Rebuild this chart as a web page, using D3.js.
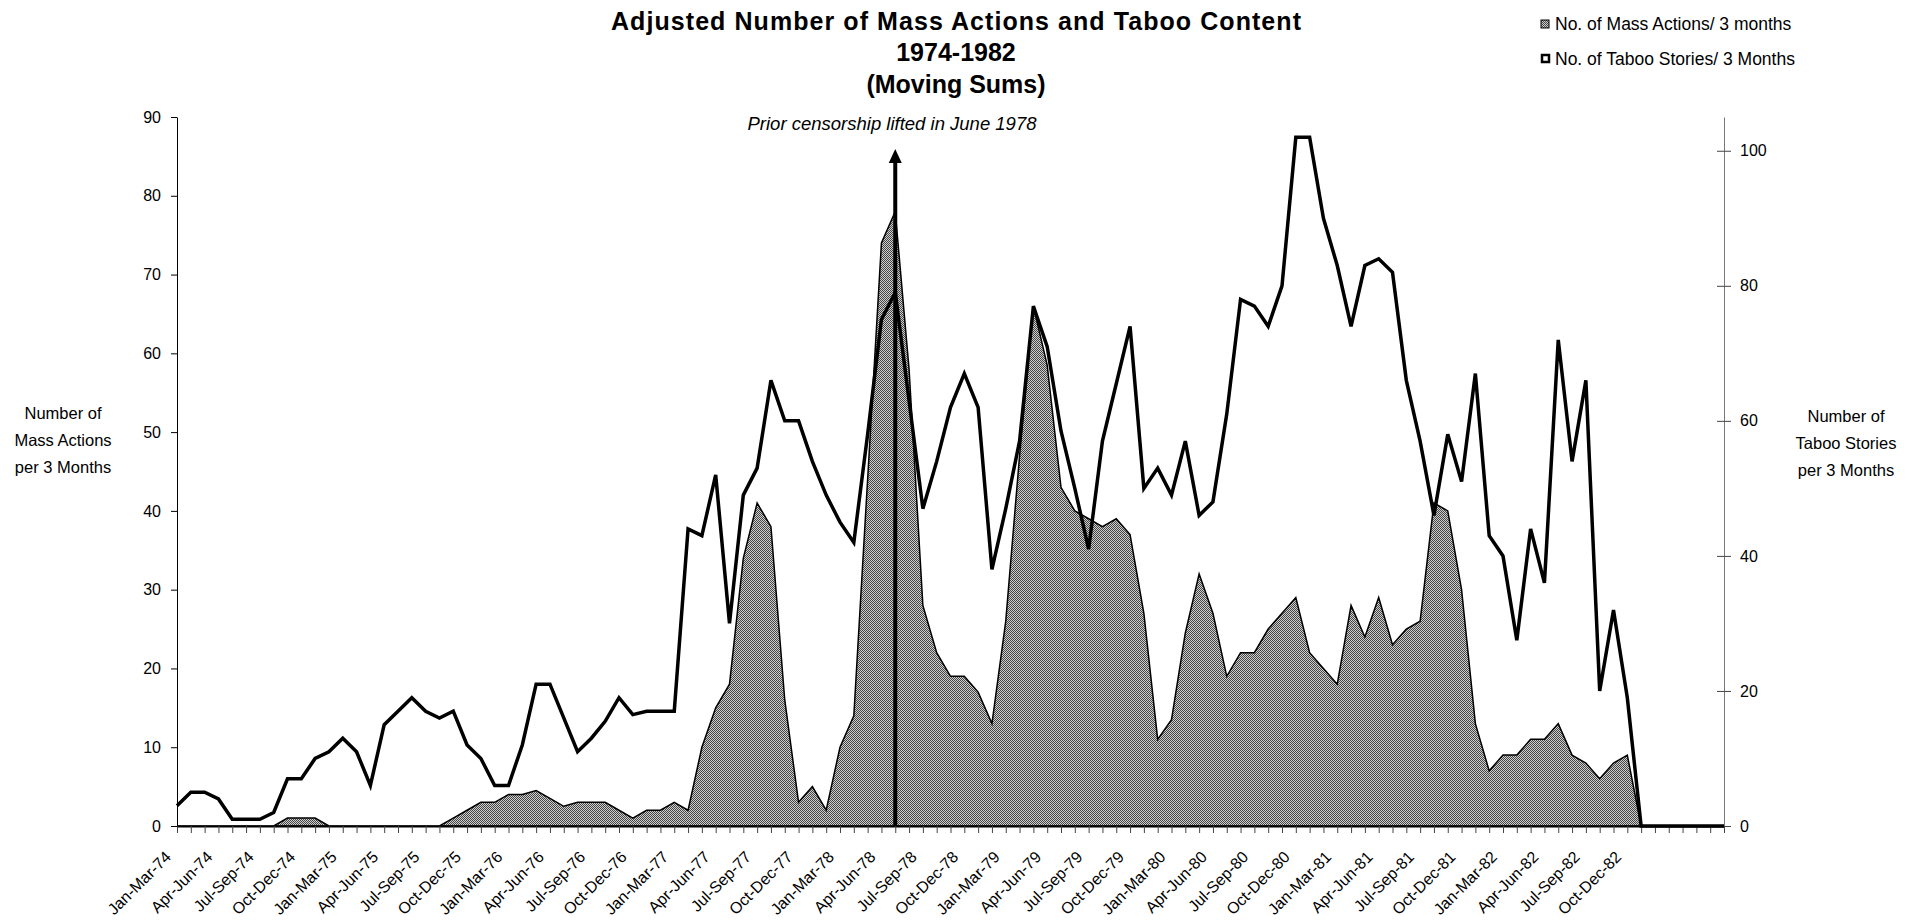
<!DOCTYPE html>
<html>
<head>
<meta charset="utf-8">
<script src="https://cdn.jsdelivr.net/npm/d3@7"></script>
<style>
  body { margin: 0; background: #fff; }
  text { font-family: "Liberation Sans", Arial, sans-serif; fill: #000; }
</style>
</head>
<body>
<div id="chart"></div>
<script>
// one category per month, each value is the 3-month moving sum starting that month
const monthNames = ["Jan","Feb","Mar","Apr","May","Jun","Jul","Aug","Sep","Oct","Nov","Dec"];

// tick labels, shown on every third category
const tickLabels = [
  "Jan-Mar-74","Apr-Jun-74","Jul-Sep-74","Oct-Dec-74",
  "Jan-Mar-75","Apr-Jun-75","Jul-Sep-75","Oct-Dec-75",
  "Jan-Mar-76","Apr-Jun-76","Jul-Sep-76","Oct-Dec-76",
  "Jan-Mar-77","Apr-Jun-77","Jul-Sep-77","Oct-Dec-77",
  "Jan-Mar-78","Apr-Jun-78","Jul-Sep-78","Oct-Dec-78",
  "Jan-Mar-79","Apr-Jun-79","Jul-Sep-79","Oct-Dec-79",
  "Jan-Mar-80","Apr-Jun-80","Jul-Sep-80","Oct-Dec-80",
  "Jan-Mar-81","Apr-Jun-81","Jul-Sep-81","Oct-Dec-81",
  "Jan-Mar-82","Apr-Jun-82","Jul-Sep-82","Oct-Dec-82"
];

// No. of mass actions / 3 months (left axis)
const massActions = [
  0, 0, 0, 0, 0, 0, 0, 0, 1, 1,
  1, 0, 0, 0, 0, 0, 0, 0, 0, 0,
  1, 2, 3, 3, 4, 4, 4.5, 3.5, 2.5, 3,
  3, 3, 2, 1, 2, 2, 3, 2, 10, 15,
  18, 34, 41, 38, 16, 3, 5, 2, 10, 14,
  44, 74, 78, 58, 28, 22, 19, 19, 17, 13,
  26, 47, 66, 58.5, 43, 40, 39, 38, 39, 37,
  27, 11, 13.5, 24.5, 32, 27, 19, 22, 22, 25,
  27, 29, 22, 20, 18, 28, 24, 29, 23, 25,
  26, 41, 40, 30, 13, 7, 9, 9, 11, 11,
  13, 9, 8, 6, 8, 9, 0, 0, 0, 0,
  0, 0, 0
];

// No. of taboo stories / 3 months (right axis)
const tabooStories = [
  3, 5, 5, 4, 1, 1, 1, 2, 7, 7,
  10, 11, 13, 11, 6, 15, 17, 19, 17, 16,
  17, 12, 10, 6, 6, 12, 21, 21, 16, 11,
  13, 15.5, 19, 16.5, 17, 17, 17, 44, 43, 52,
  30, 49, 53, 66, 60, 60, 54, 49, 45, 42,
  58, 75, 79, 63, 47, 54, 62, 67, 62, 38,
  47, 57, 77, 71, 58.5, 50, 41, 57, 65.5, 74,
  50, 53, 49, 57, 46, 48, 61, 78, 77, 74,
  80, 102, 102, 90, 83, 74, 83, 84, 82, 66,
  57, 46, 58, 51, 67, 43, 40, 27.5, 44, 36,
  72, 54, 66, 20, 32, 19, 0, 0, 0, 0,
  0, 0, 0
];

const leftTicks = [0, 10, 20, 30, 40, 50, 60, 70, 80, 90];
const rightTicks = [0, 20, 40, 60, 80, 100];
const censorshipIndex = 52;

const categories = massActions.map((d, i) =>
  monthNames[i % 12] + "-" + monthNames[(i + 2) % 12] + "-" + (74 + Math.floor((i + 2) / 12)));

const width = 1927, height = 924;
const margin = {top: 117, right: 203, bottom: 98, left: 177};

const svg = d3.select("#chart")
    .append("svg")
    .attr("width", width)
    .attr("height", height);

svg.append("rect").attr("width", width).attr("height", height).attr("fill", "#fff");

// fine checker fill for the mass actions area
const pat = svg.append("defs").append("pattern")
    .attr("id", "checker")
    .attr("patternUnits", "userSpaceOnUse")
    .attr("width", 2).attr("height", 2);
pat.append("rect").attr("width", 2).attr("height", 2).attr("fill", "#cfcfcf");
pat.append("rect").attr("width", 1).attr("height", 1).attr("fill", "#444");
pat.append("rect").attr("x", 1).attr("y", 1).attr("width", 1).attr("height", 1).attr("fill", "#444");

const xScale = d3.scalePoint()
    .domain(categories)
    .range([margin.left, width - margin.right]);

const yLeft = d3.scaleLinear()
    .domain([0, 90])
    .range([height - margin.bottom, margin.top]);

const yRight = d3.scaleLinear()
    .domain([0, 105])
    .range([height - margin.bottom, margin.top]);

// area
const area = d3.area()
    .x((d, i) => xScale(categories[i]))
    .y0(yLeft(0))
    .y1((d) => yLeft(d));

svg.append("path")
    .datum(massActions)
    .attr("d", area)
    .attr("fill", "url(#checker)")
    .attr("stroke", "#000")
    .attr("stroke-width", 1.5)
    .attr("stroke-linejoin", "miter");

// x axis
const xAxis = svg.append("g")
    .attr("transform", `translate(0,${height - margin.bottom})`)
    .call(d3.axisBottom(xScale).tickSize(7).tickSizeOuter(0).tickFormat(""));
xAxis.select(".domain").attr("stroke", "#000").attr("stroke-width", 2);
xAxis.selectAll(".tick line").attr("stroke", "#444");

svg.append("g")
    .selectAll("text")
    .data(tickLabels)
    .enter()
    .append("text")
    .attr("transform", (d, k) => `translate(${xScale(categories[k * 3]) - 5},${height - margin.bottom + 32}) rotate(-45)`)
    .attr("text-anchor", "end")
    .attr("font-size", "16px")
    .text((d) => d);

// left axis
const leftAxis = svg.append("g")
    .attr("transform", `translate(${margin.left},0)`)
    .call(d3.axisLeft(yLeft).tickValues(leftTicks).tickSize(6).tickPadding(10).tickSizeOuter(0));
leftAxis.selectAll("text").attr("font-size", "16px").attr("font-family", null);

// right axis, ticks crossing the line
const rightAxis = svg.append("g")
    .attr("transform", `translate(${width - margin.right},0)`)
    .call(d3.axisRight(yRight).tickValues(rightTicks).tickSize(7).tickPadding(9).tickSizeOuter(0));
rightAxis.select(".domain").attr("stroke", "#777");
rightAxis.selectAll(".tick line").attr("x1", -7).attr("stroke", "#444");
rightAxis.selectAll("text").attr("font-size", "16px").attr("font-family", null);

// taboo stories line
const line = d3.line()
    .x((d, i) => xScale(categories[i]))
    .y((d) => yRight(d));

svg.append("path")
    .datum(tabooStories)
    .attr("d", line)
    .attr("fill", "none")
    .attr("stroke", "#000")
    .attr("stroke-width", 3.5)
    .attr("stroke-linejoin", "miter");

// censorship arrow
const ax = xScale(categories[censorshipIndex]);
svg.append("line")
    .attr("x1", ax).attr("x2", ax)
    .attr("y1", yLeft(0)).attr("y2", 160)
    .attr("stroke", "#000")
    .attr("stroke-width", 4);
svg.append("path")
    .attr("d", `M${ax},149 L${ax - 6.5},163 L${ax + 6.5},163 Z`)
    .attr("fill", "#000");

svg.append("text")
    .attr("x", 892)
    .attr("y", 130)
    .attr("text-anchor", "middle")
    .attr("font-size", "18.5px")
    .attr("font-style", "italic")
    .text("Prior censorship lifted in June 1978");

// title, first line spaced out like the original
const titleLines = [
  {t: "Adjusted Number of Mass Actions and Taboo Content", y: 30},
  {t: "1974-1982", y: 61},
  {t: "(Moving Sums)", y: 93}
];
const title = svg.append("g")
    .selectAll("text")
    .data(titleLines)
    .enter()
    .append("text")
    .attr("x", 956)
    .attr("y", (d) => d.y)
    .attr("text-anchor", "middle")
    .attr("font-size", "25px")
    .attr("font-weight", "bold")
    .text((d) => d.t);
title.filter((d, i) => i === 0)
    .attr("textLength", 690)
    .attr("lengthAdjust", "spacing");

// axis titles
const leftTitle = ["Number of", "Mass Actions", "per 3 Months"];
svg.append("g")
    .selectAll("text")
    .data(leftTitle)
    .enter()
    .append("text")
    .attr("x", 63)
    .attr("y", (d, i) => 419 + i * 27)
    .attr("text-anchor", "middle")
    .attr("font-size", "16.5px")
    .text((d) => d);

const rightTitle = ["Number of", "Taboo Stories", "per 3 Months"];
svg.append("g")
    .selectAll("text")
    .data(rightTitle)
    .enter()
    .append("text")
    .attr("x", 1846)
    .attr("y", (d, i) => 422 + i * 27)
    .attr("text-anchor", "middle")
    .attr("font-size", "16.5px")
    .text((d) => d);

// legend
const legend = svg.append("g");
legend.append("rect")
    .attr("x", 1541).attr("y", 20).attr("width", 8).attr("height", 8)
    .attr("fill", "url(#checker)").attr("stroke", "#000").attr("stroke-width", 1);
legend.append("text")
    .attr("x", 1555).attr("y", 30)
    .attr("font-size", "17.5px")
    .text("No. of Mass Actions/ 3 months");
legend.append("rect")
    .attr("x", 1542).attr("y", 55).attr("width", 7).attr("height", 7)
    .attr("fill", "#fff").attr("stroke", "#000").attr("stroke-width", 2.5);
legend.append("text")
    .attr("x", 1555).attr("y", 65)
    .attr("font-size", "17.5px")
    .text("No. of Taboo Stories/ 3 Months");
</script>
</body>
</html>
